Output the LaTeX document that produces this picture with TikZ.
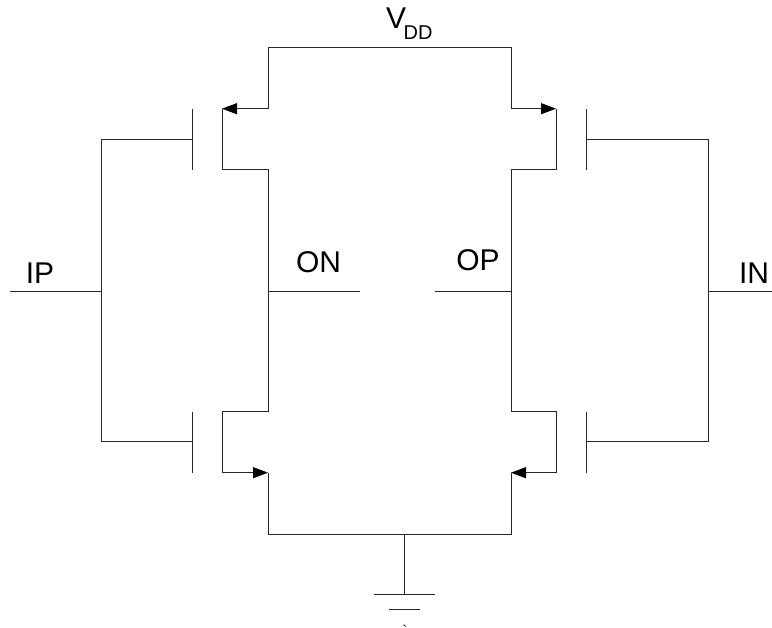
\documentclass[tikz,border=0pt]{standalone}
\usepackage{fontspec}
\setmainfont{Liberation Sans}
\newfontfamily\tickfont{Liberation Sans}
\usetikzlibrary{arrows.meta}
\begin{document}
\begin{tikzpicture}[x=1pt,y=-1pt,
  wire/.style={line width=1pt,black!85,line join=miter},
  flow/.style={wire,-{Triangle[length=15pt,width=11pt,color=black]}},
  lbl/.style={inner sep=0pt,font=\fontsize{30}{30}\selectfont,text=black,anchor=base}]
\useasboundingbox (0,-0.7) rectangle (772,627.3);
\path[fill=white] (0,-0.7) rectangle (772,627.3);
% left column
\coordinate (tl) at (268,47); \coordinate (tr) at (511,47);
\coordinate (ls1) at (268,108); \coordinate (lc1) at (222,108); \coordinate (lc2) at (222,169);
\coordinate (ld1) at (268,169); \coordinate (lmid) at (268,291); \coordinate (ld2) at (268,411);
\coordinate (lc3) at (222,411); \coordinate (lc4) at (222,472); \coordinate (ls2) at (268,472);
\coordinate (bl) at (268,534); \coordinate (br) at (511,534);
% right column
\coordinate (rs1) at (511,108); \coordinate (rc1) at (556,108); \coordinate (rc2) at (556,169);
\coordinate (rd1) at (511,169); \coordinate (rmid) at (511,291); \coordinate (rd2) at (511,411);
\coordinate (rc3) at (556,411); \coordinate (rc4) at (556,472); \coordinate (rs2) at (511,472);
% gates
\coordinate (g1a) at (192,108); \coordinate (g1b) at (192,169); \coordinate (g1m) at (192,139);
\coordinate (g2a) at (192,411); \coordinate (g2b) at (192,472); \coordinate (g2m) at (192,441);
\coordinate (g3a) at (586,108); \coordinate (g3b) at (586,169); \coordinate (g3m) at (586,139);
\coordinate (g4a) at (586,411); \coordinate (g4b) at (586,472); \coordinate (g4m) at (586,441);
\coordinate (il1) at (101,139); \coordinate (il2) at (101,441); \coordinate (ilm) at (101,291);
\coordinate (ir1) at (708,139); \coordinate (ir2) at (708,441); \coordinate (irm) at (708,291);
\coordinate (ipend) at (10,291); \coordinate (inend) at (772,291);
\coordinate (onend) at (360,291); \coordinate (opend) at (435,291);
\coordinate (gt) at (404,534); \coordinate (gm) at (404,594);
\coordinate (g1l) at (374,594); \coordinate (g1r) at (435,594);
\coordinate (g2l) at (389,609); \coordinate (g2r) at (420,609);
% supply and devices
\draw[wire] (rs1) -- (tr) -- (tl) -- (ls1);
\draw[flow] (ls1) -- (lc1);
\draw[wire] (lc1) -- (lc2) -- (ld1) -- (ld2) -- (lc3) -- (lc4);
\draw[flow] (lc4) -- (ls2);
\draw[wire] (ls2) -- (bl) -- (br) -- (rs2);
\draw[flow] (rc4) -- (rs2);
\draw[wire] (rc4) -- (rc3) -- (rd2) -- (rd1) -- (rc2) -- (rc1);
\draw[flow] (rs1) -- (rc1);
% gate bars
\draw[wire] (g1a) -- (g1b); \draw[wire] (g2a) -- (g2b);
\draw[wire] (g3a) -- (g3b); \draw[wire] (g4a) -- (g4b);
\draw[wire] (g1m) -- (il1) -- (il2) -- (g2m);
\draw[wire] (g3m) -- (ir1) -- (ir2) -- (g4m);
% signals
\draw[wire] (ipend) -- (ilm);
\draw[wire] (irm) -- (inend);
\draw[wire] (lmid) -- (onend);
\draw[wire] (rmid) -- (opend);
% ground
\draw[wire] (gt) -- (gm);
\draw[wire] (g1l) -- (g1r);
\draw[wire] (g2l) -- (g2r);
% labels
\node[lbl] (ip) at (40,283) {IP};
\node[lbl] (on) at (318.5,272) {ON};
\node[lbl] (op) at (478,270) {OP};
\node[lbl] (in) at (754,283) {IN};
\node[inner sep=0pt,anchor=base west,text=black] (vdd) at (386,28) {\fontsize{30}{30}\selectfont V\kern-2.5pt\raisebox{-11pt}{\fontsize{20}{20}\selectfont DD}};
\node[inner sep=0pt,anchor=base,text=black] (tick) at (405,635) {\fontsize{14}{14}\tickfont\selectfont `};
\end{tikzpicture}
\end{document}
